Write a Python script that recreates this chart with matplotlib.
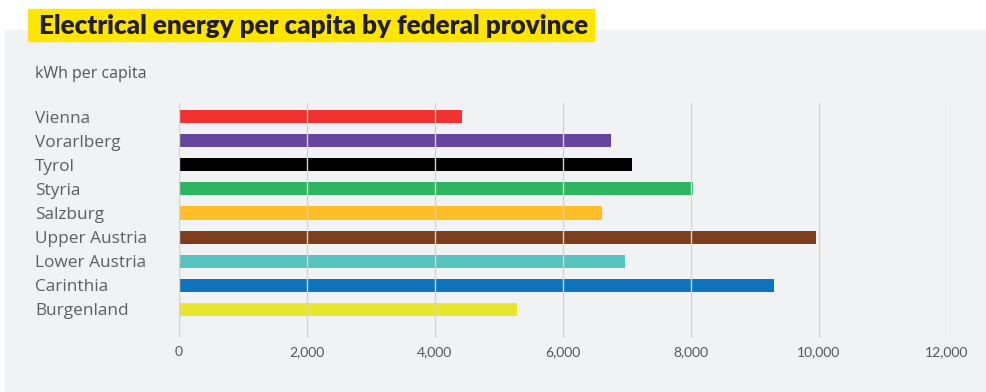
import matplotlib
matplotlib.use('Agg')
import matplotlib.pyplot as plt
import matplotlib.transforms as mtrans
from matplotlib.patches import Rectangle

# data
provinces = ['Vienna', 'Vorarlberg', 'Tyrol', 'Styria', 'Salzburg',
             'Upper Austria', 'Lower Austria', 'Carinthia', 'Burgenland']
kwh = [4430, 6750, 7090, 8030, 6610, 9960, 6980, 9310, 5290]
colors = ['#f23131', '#66459c', '#000000', '#2db563', '#ffbe28',
          '#7c3e1c', '#56c3bf', '#0e74bd', '#e9e630']
xticks = [0, 2000, 4000, 6000, 8000, 10000, 12000]

W, H = 987, 392
plt.rcParams['font.family'] = ['Lato', 'DejaVu Sans']
fig = plt.figure(figsize=(W / 100, H / 100), dpi=100)
fig.patch.set_facecolor('white')

# grey panel and yellow title box
fig.patches.append(Rectangle((5 / W, 0), (W - 5) / W, (H - 30) / H,
                             transform=fig.transFigure, color='#f1f2f4', zorder=-2))
fig.patches.append(Rectangle((28 / W, 1 - 41 / H), 566 / W, 32 / H,
                             transform=fig.transFigure, color='#ffe600', zorder=-1))
fig.text(39 / W, 1 - 25.5 / H, 'Electrical energy per capita by federal province',
         fontsize=18.7, fontweight='heavy', color='#231f20', va='center', ha='left')
fig.text(35 / W, 1 - 72 / H, 'kWh per capita', fontsize=11.5, color='#555555',
         family='Open Sans', va='center_baseline', ha='left')

ax = fig.add_axes([179 / W, (H - 337.7) / H, 767.5 / W, 234.7 / H])
ax.set_zorder(2)
ax.set_facecolor('none')
ypos = list(range(len(provinces)))
ax.barh(ypos, kwh, height=0.54, color=colors, zorder=2)
ax.set_xlim(0, 12000)
ax.set_ylim(8 + 1.17, -0.56)
ax.set_xticks(xticks)
ax.set_xticklabels([f'{t:,}' for t in xticks], fontsize=10, color='#555555')
ax.tick_params(axis='x', length=0, pad=6)
ax.set_yticks([])
ax.grid(axis='x', color='#d4d4d4', linewidth=1, zorder=3)
ax.set_axisbelow(False)
for s in ax.spines.values():
    s.set_visible(False)

# category labels, left aligned at x = 35 px
lab_tr = mtrans.blended_transform_factory(fig.transFigure, ax.transData)
for yp, name in zip(ypos, provinces):
    ax.text(35 / W, yp, name, transform=lab_tr, clip_on=False, family='Open Sans',
            fontsize=12.4, color='#5f5f5f', va='center_baseline', ha='left')

fig.savefig('out.png', dpi=100)
